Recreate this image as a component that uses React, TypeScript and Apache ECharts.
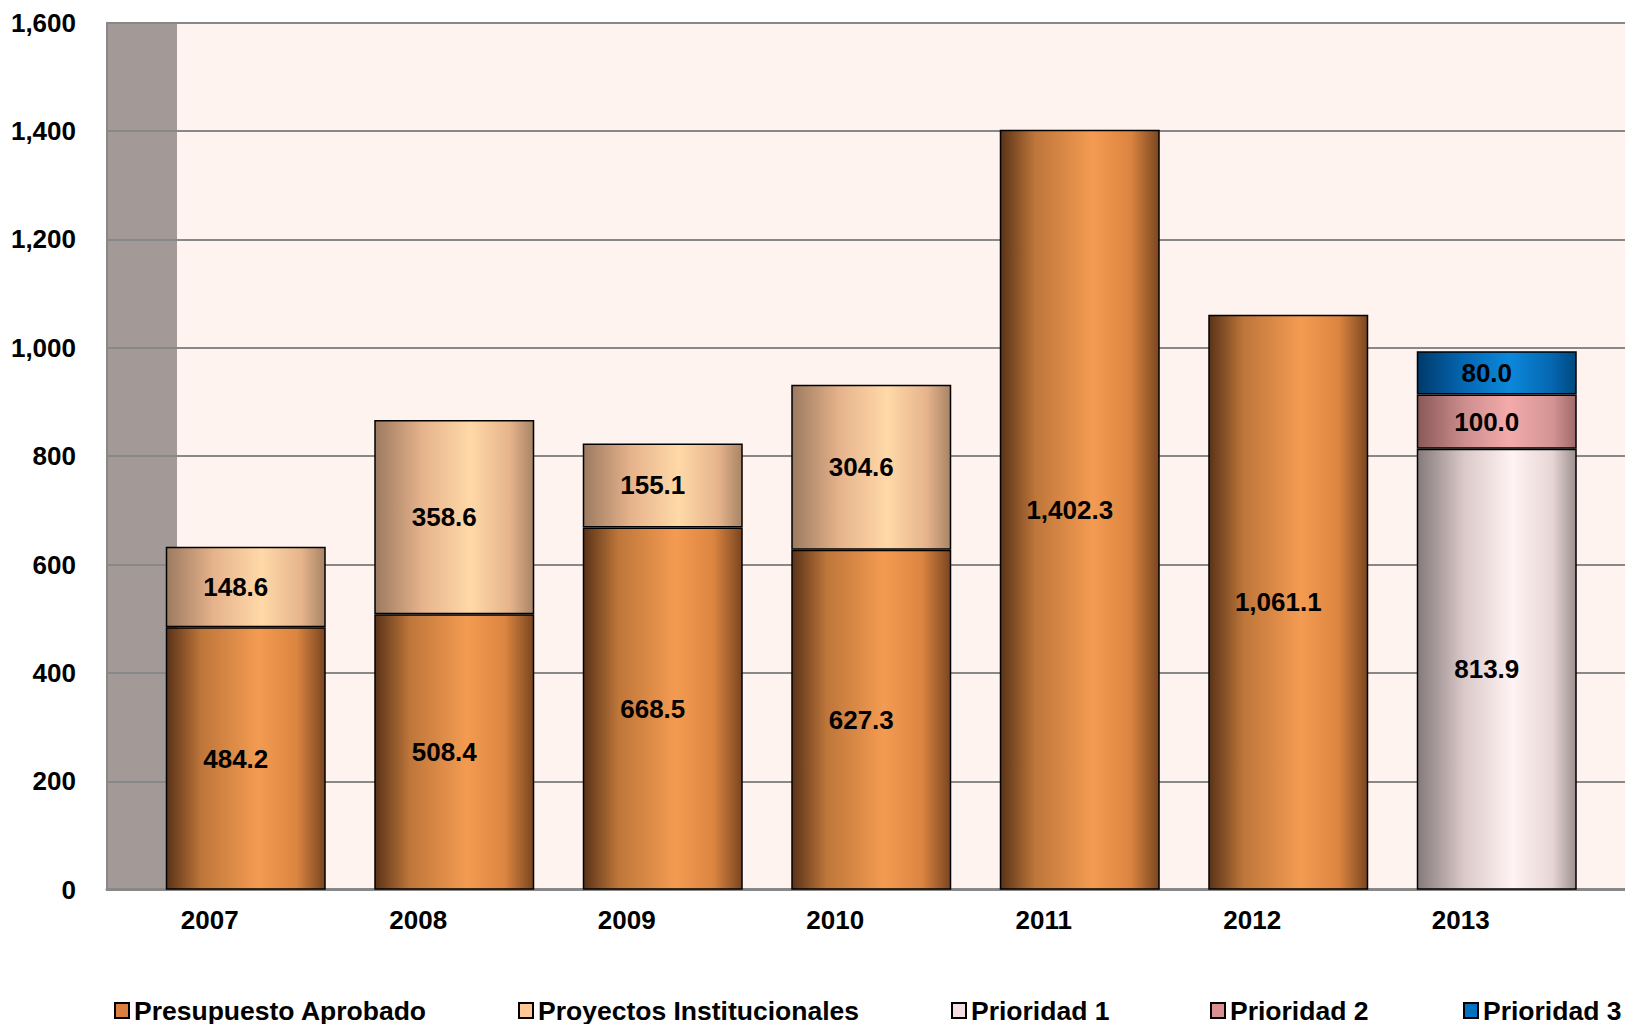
import React, { useEffect, useRef } from "react";
import * as echarts from "echarts";

const categories = ["2007", "2008", "2009", "2010", "2011", "2012", "2013"];
const presupuestoAprobado = [484.2, 508.4, 668.5, 627.3, 1402.3, 1061.1, null];
const proyectosInstitucionales = [148.6, 358.6, 155.1, 304.6, null, null, null];
const prioridad1 = [null, null, null, null, null, null, 813.9];
const prioridad2 = [null, null, null, null, null, null, 100.0];
const prioridad3 = [null, null, null, null, null, null, 80.0];
const yTicks = { min: 0, max: 1600, interval: 200 };

const FONT = "'Liberation Sans', Arial, sans-serif";

const grad = (stops: [number, string][]) =>
  new echarts.graphic.LinearGradient(
    0, 0, 1, 0,
    stops.map(([offset, color]) => ({ offset, color }))
  );

const fmt1 = (v: number) =>
  v.toLocaleString("en-US", { minimumFractionDigits: 1, maximumFractionDigits: 1 });

export default function App() {
  const ref = useRef<HTMLDivElement>(null);
  useEffect(() => {
    if (!ref.current) return;
    const chart = echarts.init(ref.current, undefined, { renderer: "svg" });
    const label = {
      show: true,
      position: "inside",
      offset: [-10, 0],
      color: "#000",
      fontFamily: FONT,
      fontWeight: "bold",
      fontSize: 26,
      formatter: (p: any) => (p.value == null ? "" : fmt1(p.value)),
    };
    const border = { borderColor: "#000", borderWidth: 1.5 };
    const mk = (name: string, data: any[], color: any) => ({
      name,
      type: "bar",
      stack: "total",
      xAxisIndex: 1,
      yAxisIndex: 1,
      barWidth: 160,
      data,
      label,
      itemStyle: { color, ...border },
      emphasis: { disabled: true },
    });
    const legendNames = [
      ["Presupuesto Aprobado", "#D98040", 114],
      ["Proyectos Institucionales", "#FFC896", 518],
      ["Prioridad 1", "#F4E0E0", 951],
      ["Prioridad 2", "#DA9090", 1210],
      ["Prioridad 3", "#0070C0", 1463],
    ] as [string, string, number][];
    chart.setOption({
      animation: false,
      backgroundColor: "#ffffff",
      graphic: [
        {
          type: "rect",
          z: -10,
          shape: { x: 107, y: 22.7, width: 1625 - 107, height: 867 },
          style: { fill: "#FEF3EE" },
          silent: true,
        },
        {
          type: "rect",
          z: -9,
          shape: { x: 107, y: 22.7, width: 70, height: 867 },
          style: { fill: "#A39A97" },
          silent: true,
        },
      ],
      legend: legendNames.map(([name, color, left]) => ({
        data: [{ name, itemStyle: { color, borderColor: "#000", borderWidth: 2 } }],
        left,
        top: 997,
        padding: 0,
        itemWidth: 14,
        itemHeight: 15,
        icon: "rect",
        selectedMode: false,
        textStyle: { fontFamily: FONT, fontWeight: "bold", fontSize: 26.5, color: "#000" },
      })),
      grid: [
        { left: 107, right: 0, top: 22.7, bottom: 134.3 },
        { left: 141.5, right: 24, top: 22.7, bottom: 134.3 },
      ],
      xAxis: [
        {
          gridIndex: 0,
          type: "category",
          data: [""],
          axisLabel: { show: false },
          axisTick: { show: false },
          axisLine: { show: true, lineStyle: { color: "#888888", width: 3 } },
        },
        {
          gridIndex: 1,
          type: "category",
          data: categories,
          axisTick: { show: false },
          axisLine: { show: false },
          axisLabel: {
            margin: 17,
            color: "#000",
            fontFamily: FONT,
            fontWeight: "bold",
            fontSize: 26,
            padding: [0, 72, 0, 0],
          },
        },
      ],
      yAxis: [
        {
          gridIndex: 0,
          type: "value",
          ...yTicks,
          axisLine: { show: true, lineStyle: { color: "#888888", width: 2 } },
          axisTick: { show: false },
          splitLine: { show: true, lineStyle: { color: "#888888", width: 2 } },
          axisLabel: {
            margin: 31,
            color: "#000",
            fontFamily: FONT,
            fontWeight: "bold",
            fontSize: 26,
            formatter: (v: number) => v.toLocaleString("en-US"),
          },
        },
        {
          gridIndex: 1,
          type: "value",
          ...yTicks,
          show: false,
          splitLine: { show: false },
        },
      ],
      series: [
        mk("Presupuesto Aprobado", presupuestoAprobado, grad([
          [0, "#5A3318"], [0.22, "#BE763A"], [0.58, "#F49B52"], [0.82, "#DC8541"], [1, "#7A4620"],
        ])),
        mk("Proyectos Institucionales", proyectosInstitucionales, grad([
          [0, "#9C7A60"], [0.3, "#E6B38C"], [0.6, "#FFD9A8"], [0.85, "#E6B48C"], [1, "#A88466"],
        ])),
        mk("Prioridad 1", prioridad1, grad([
          [0, "#857A7B"], [0.3, "#DCCACA"], [0.6, "#FFF3F3"], [0.85, "#E8D6D6"], [1, "#9E9090"],
        ])),
        mk("Prioridad 2", prioridad2, grad([
          [0, "#8A5858"], [0.3, "#CE8E8E"], [0.58, "#F4AAAA"], [0.85, "#D49494"], [1, "#A06A6A"],
        ])),
        mk("Prioridad 3", prioridad3, grad([
          [0, "#003A6A"], [0.3, "#0468B4"], [0.58, "#0C88DA"], [0.85, "#0566B0"], [1, "#00487E"],
        ])),
      ],
    });
    return () => chart.dispose();
  }, []);
  return <div ref={ref} style={{ width: 1625, height: 1024, position: "absolute", left: 0, top: 0 }} />;
}
